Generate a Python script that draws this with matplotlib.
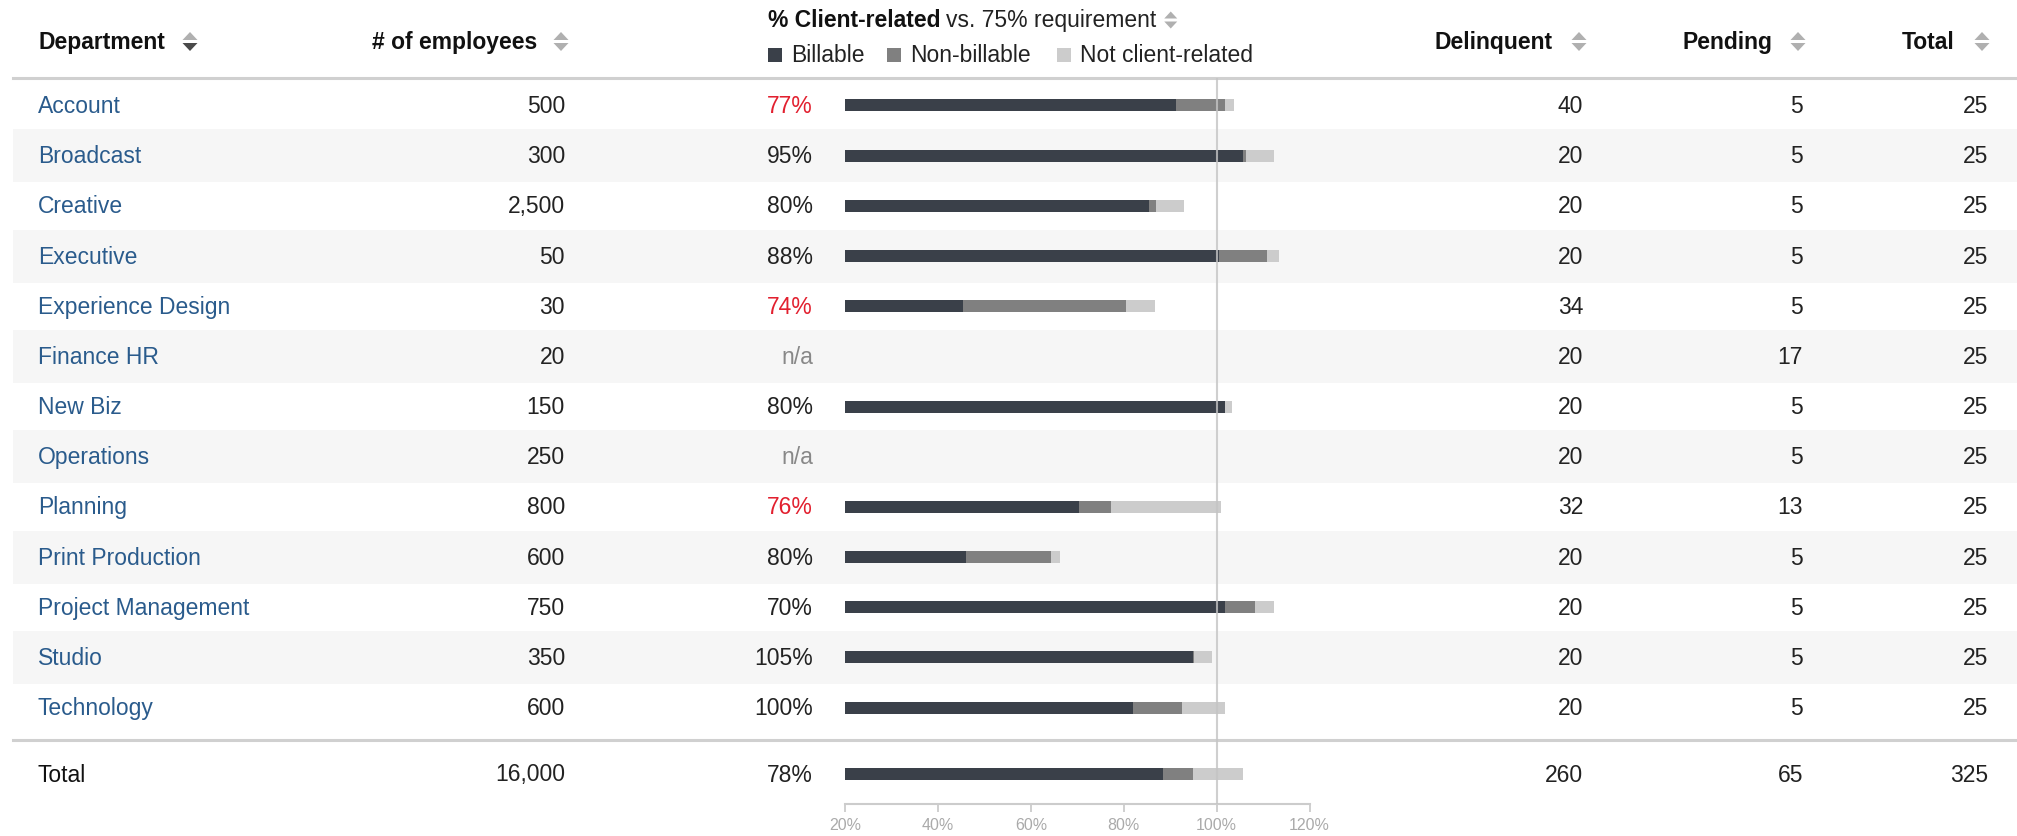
import matplotlib.pyplot as plt
from matplotlib.patches import Rectangle, Polygon
import numpy as np

plt.rcParams['font.family'] = ['Liberation Sans', 'DejaVu Sans']

# ---------------- data ----------------
departments = ['Account', 'Broadcast', 'Creative', 'Executive', 'Experience Design',
               'Finance HR', 'New Biz', 'Operations', 'Planning', 'Print Production',
               'Project Management', 'Studio', 'Technology']
employees = [500, 300, 2500, 50, 30, 20, 150, 250, 800, 600, 750, 350, 600]
client_pct = [77, 95, 80, 88, 74, None, 80, None, 76, 80, 70, 105, 100]
flagged = [True, False, False, False, True, False, False, False, True, False, False, False, False]
delinquent = [40, 20, 20, 20, 34, 20, 20, 20, 32, 20, 20, 20, 20]
pending = [5, 5, 5, 5, 5, 17, 5, 5, 13, 5, 5, 5, 5]
totals = [25, 25, 25, 25, 25, 25, 25, 25, 25, 25, 25, 25, 25]

# bar segments (percentage points, stacked from the 20% axis start)
billable = [71.2, 85.7, 65.5, 80.5, 25.5, np.nan, 81.7, np.nan, 50.3, 26.1, 81.7, 74.9, 61.9]
non_billable = [10.5, 0.6, 1.4, 10.4, 34.9, np.nan, 0.0, np.nan, 6.9, 18.2, 6.5, 0.3, 10.7]
not_client = [2.0, 6.1, 6.1, 2.5, 6.4, np.nan, 1.7, np.nan, 23.7, 2.0, 4.2, 3.9, 9.1]

total_row = {'employees': 16000, 'pct': 78, 'delinquent': 260, 'pending': 65, 'total': 325}
total_bar = [68.4, 6.4, 10.8]

axis_ticks = [20, 40, 60, 80, 100, 120]
requirement_line = 100

# ---------------- layout (pixels) ----------------
W, H = 2017, 836
row0, pitch = 105.5, 50.17
row_y = [row0 + i * pitch for i in range(len(departments))]
total_y = 774
fs = 16.5
c_text = '#222222'
c_dept = '#2a5b8c'
c_red = '#e2202f'
c_dark, c_mid, c_light = '#3a4049', '#808080', '#cccccc'

fig = plt.figure(figsize=(W / 100, H / 100), dpi=100)
ax = fig.add_axes([0, 0, 1, 1])
ax.set_xlim(0, W)
ax.set_ylim(H, 0)
ax.axis('off')

# stripes
for i, y in enumerate(row_y):
    if i % 2 == 1:
        ax.add_patch(Rectangle((13, y - 26.5), W - 13, 53, color='#f6f6f6', lw=0, zorder=0))

# header / footer rules
ax.plot([13, W], [77.5, 77.5], color='#d0d0d0', lw=2.2, zorder=1)
ax.plot([13, W], [740, 740], color='#d0d0d0', lw=2.2, zorder=1)


def sort_icon(cx, cy, top='#b0b0b0', bottom='#b0b0b0', w=7.5, h=8):
    ax.add_patch(Polygon([(cx - w, cy - 1.5), (cx + w, cy - 1.5), (cx, cy - 1.5 - h)],
                         closed=True, color=top, lw=0))
    ax.add_patch(Polygon([(cx - w, cy + 1.5), (cx + w, cy + 1.5), (cx, cy + 1.5 + h)],
                         closed=True, color=bottom, lw=0))


hy = 41.5 + 7.5
ax.text(38, hy, 'Department', fontsize=fs, fontweight='bold', color='#111', va='baseline')
sort_icon(190, 41.5, bottom='#4a4a4a')
ax.text(372, hy, '# of employees', fontsize=fs, fontweight='bold', color='#111', va='baseline')
sort_icon(561, 41.5)
ax.text(1553, hy, 'Delinquent', fontsize=fs, fontweight='bold', color='#111', va='baseline', ha='right')
sort_icon(1579, 41.5)
ax.text(1773, hy, 'Pending', fontsize=fs, fontweight='bold', color='#111', va='baseline', ha='right')
sort_icon(1798, 41.5)
ax.text(1954, hy, 'Total', fontsize=fs, fontweight='bold', color='#111', va='baseline', ha='right')
sort_icon(1982, 41.5)

# bar column title (bold + regular) + legend
t_bold = ax.text(768, 27, '% Client-related', fontsize=fs, fontweight='bold', color='#111',
                 va='baseline')
renderer = fig.canvas.get_renderer()
bb = t_bold.get_window_extent(renderer)
x_end = ax.transData.inverted().transform((bb.x1, bb.y0))[0]
t_reg = ax.text(x_end + 6, 27, 'vs. 75% requirement', fontsize=fs, color=c_text, va='baseline')
bb2 = t_reg.get_window_extent(renderer)
x_end2 = ax.transData.inverted().transform((bb2.x1, bb2.y0))[0]
sort_icon(x_end2 + 14, 20, w=6.5, h=7)
for x0, col, lab in [(768, c_dark, 'Billable'), (887, c_mid, 'Non-billable'),
                     (1057, c_light, 'Not client-related')]:
    ax.add_patch(Rectangle((x0, 48), 14, 14, color=col, lw=0))
    ax.text(x0 + 23, 62, lab, fontsize=fs, color=c_text, va='baseline')

# table body
for i, y in enumerate(row_y):
    b = y + 7.5
    ax.text(38, b, departments[i], fontsize=fs, color=c_dept, va='baseline')
    ax.text(565, b, f'{employees[i]:,}', fontsize=fs, color=c_text, va='baseline', ha='right')
    if client_pct[i] is None:
        ax.text(813, b, 'n/a', fontsize=fs, color='#888888', va='baseline', ha='right')
    else:
        ax.text(813, b, f'{client_pct[i]}%', fontsize=fs, va='baseline', ha='right',
                color=c_red if flagged[i] else c_text)
    ax.text(1583, b, f'{delinquent[i]}', fontsize=fs, color=c_text, va='baseline', ha='right')
    ax.text(1803, b, f'{pending[i]}', fontsize=fs, color=c_text, va='baseline', ha='right')
    ax.text(1988, b, f'{totals[i]}', fontsize=fs, color=c_text, va='baseline', ha='right')

b = total_y + 7.5
ax.text(38, b, 'Total', fontsize=fs, color='#111', va='baseline')
ax.text(565, b, f"{total_row['employees']:,}", fontsize=fs, color=c_text, va='baseline', ha='right')
ax.text(813, b, f"{total_row['pct']}%", fontsize=fs, color=c_text, va='baseline', ha='right')
ax.text(1583, b, f"{total_row['delinquent']}", fontsize=fs, color=c_text, va='baseline', ha='right')
ax.text(1803, b, f"{total_row['pending']}", fontsize=fs, color=c_text, va='baseline', ha='right')
ax.text(1988, b, f"{total_row['total']}", fontsize=fs, color=c_text, va='baseline', ha='right')

# ---------------- bar axes ----------------
x_left, px_per_pct = 845, 4.646
x_right = x_left + (axis_ticks[-1] - axis_ticks[0]) * px_per_pct
y_top, y_axis = 78, 804
bx = fig.add_axes([x_left / W, (H - y_axis) / H, (x_right - x_left) / W, (y_axis - y_top) / H])
bx.patch.set_alpha(0)
bx.set_xlim(axis_ticks[0], axis_ticks[-1])
bx.set_ylim(y_axis, y_top)

ys = np.array(row_y + [total_y])
bill = np.array(billable + [total_bar[0]])
nonb = np.array(non_billable + [total_bar[1]])
notc = np.array(not_client + [total_bar[2]])
start = axis_ticks[0]
bh = 12
bx.barh(ys, bill, left=start, height=bh, color=c_dark, lw=0)
bx.barh(ys, nonb, left=start + bill, height=bh, color=c_mid, lw=0)
bx.barh(ys, notc, left=start + bill + nonb, height=bh, color=c_light, lw=0)
bx.axvline(requirement_line, color='#c4c4c4', lw=1.5, alpha=0.8, zorder=3)

for s in ['top', 'right', 'left']:
    bx.spines[s].set_visible(False)
bx.spines['bottom'].set_color('#cccccc')
bx.spines['bottom'].set_linewidth(1.5)
bx.set_yticks([])
bx.set_xticks(axis_ticks)
bx.set_xticklabels([f'{t}%' for t in axis_ticks])
bx.tick_params(axis='x', direction='out', length=6, width=1.3, color='#cccccc',
               labelcolor='#aaaaaa', labelsize=11.5, pad=4)

fig.savefig('out.png', dpi=100)
